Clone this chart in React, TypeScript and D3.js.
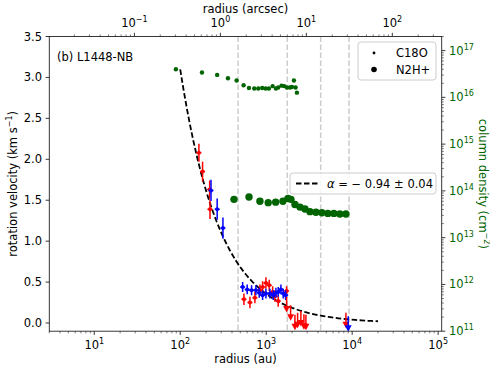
import React from "react";
import * as d3 from "d3";

const W = 490;
const H = 368;
const M = { left: 49.3, right: 441.7, top: 36.5, bottom: 331.2 };
const FONT = "DejaVu Sans, sans-serif";
const GREEN = "#006400";
const DIST_PC = 293; // au -> arcsec

// C18O column density profile
const c18oRadius = [89, 179, 269, 359, 453, 546, 630, 726, 808, 899, 985, 1076, 1188, 1298, 1380, 1511, 1621, 1742, 1888, 1992, 2100, 2198, 2276];
const c18oColumn = [3.98e16, 3.39e16, 3.02e16, 2.57e16, 2.29e16, 1.82e16, 1.58e16, 1.55e16, 1.55e16, 1.58e16, 1.55e16, 1.55e16, 1.74e16, 1.55e16, 1.62e16, 1.78e16, 1.74e16, 1.62e16, 1.62e16, 1.66e16, 2.29e16, 1.62e16, 1.26e16];

// N2H+ column density profile
const n2hRadius = [422, 631, 845, 1056, 1288, 1566, 1791, 1941, 2160, 2471, 2825, 3230, 3787, 4450, 5220, 6130, 7200, 8450];
const n2hColumn = [6.6e13, 7.4e13, 6.0e13, 5.6e13, 5.75e13, 6.0e13, 6.9e13, 6.6e13, 5.1e13, 4.5e13, 4.1e13, 3.6e13, 3.5e13, 3.4e13, 3.3e13, 3.3e13, 3.2e13, 3.2e13];

// rotation velocities (red / blue side)
const redRadius = [165, 182, 220, 222, 551, 647, 739, 845, 908, 993, 1084, 1188, 1262, 1380, 1726];
const redVel = [2.08, 1.85, 1.63, 1.39, 0.29, 0.25, 0.31, 0.40, 0.44, 0.49, 0.46, 0.38, 0.33, 0.27, 0.39];
const redErr = [0.11, 0.12, 0.11, 0.12, 0.07, 0.07, 0.07, 0.07, 0.07, 0.07, 0.07, 0.07, 0.07, 0.07, 0.06];

const blueRadius = [228, 269, 314, 532, 601, 676, 759, 830, 908, 993, 1105, 1208, 1298, 1381, 1483, 1579, 1683];
const blueVel = [1.62, 1.39, 1.16, 0.44, 0.41, 0.40, 0.40, 0.37, 0.34, 0.36, 0.36, 0.34, 0.37, 0.38, 0.41, 0.36, 0.34];
const blueErr = [0.13, 0.13, 0.13, 0.06, 0.06, 0.06, 0.06, 0.06, 0.06, 0.06, 0.06, 0.06, 0.06, 0.06, 0.06, 0.06, 0.06];

// upper limits
const redLimRadius = [1727, 1923, 2159, 2318, 2533, 2746, 2898, 8460];
const redLimVel = [0.17, 0.07, -0.045, -0.02, 0.0, -0.04, -0.045, -0.02];
const blueLimRadius = [8990];
const blueLimVel = [-0.065];

// power-law fit
const fitAmp = 235;
const fitAlpha = -0.94;
const fitRange = [100, 2e4];

const guideRadii = [470, 1760, 4300, 9200];

const velTicks = [0, 0.5, 1, 1.5, 2, 2.5, 3, 3.5];
const auExp = [1, 2, 3, 4, 5];
const arcsecExp = [-1, 0, 1, 2];
const colExp = [11, 12, 13, 14, 15, 16, 17];

const x = d3.scaleLog().domain([3, 1.1e5]).range([M.left, M.right]);
const xTop = d3.scaleLog().domain([3 / DIST_PC, 1.1e5 / DIST_PC]).range([M.left, M.right]);
const yV = d3.scaleLinear().domain([-0.1, 3.5]).range([M.bottom, M.top]);
const yN = d3.scaleLog().domain([1e11, 2e17]).range([M.bottom, M.top]);

function minorTicks(domain: number[]) {
  const out: number[] = [];
  const lo = Math.floor(Math.log10(domain[0]));
  const hi = Math.ceil(Math.log10(domain[1]));
  for (let d = lo; d <= hi; d++) {
    for (let k = 2; k <= 9; k++) {
      const v = k * Math.pow(10, d);
      if (v >= domain[0] && v <= domain[1]) out.push(v);
    }
  }
  return out;
}

const Pow = ({ x0, y0, e, anchor = "middle", fill = "#000" }: any) => (
  <text x={x0} y={y0} fontSize={11.5} textAnchor={anchor} fill={fill} fontFamily={FONT}>
    10
    <tspan dy={-5} fontSize={8}>{e < 0 ? "\u2212" + Math.abs(e) : e}</tspan>
  </text>
);

export default function App() {
  const fitR = d3.range(0, 61).map((i) => fitRange[0] * Math.pow(fitRange[1] / fitRange[0], i / 60));
  const fitLine = d3
    .line<number>()
    .x((r) => x(r))
    .y((r) => yV(fitAmp * Math.pow(r, fitAlpha)))(fitR);

  const errPoint = (r: number, v: number, e: number, color: string, key: string) => (
    <g key={key} stroke={color} fill={color}>
      <line x1={x(r)} x2={x(r)} y1={yV(v - e)} y2={yV(v + e)} strokeWidth={1.5} />
      <line x1={x(r) - 2.5} x2={x(r) + 2.5} y1={yV(v)} y2={yV(v)} strokeWidth={1.5} />
      <circle cx={x(r)} cy={yV(v)} r={2} stroke="none" />
    </g>
  );

  const limPoint = (r: number, v: number, color: string, key: string) => {
    const cx = x(r);
    const cy = yV(v);
    return (
      <g key={key} stroke={color} fill={color}>
        <line x1={cx} x2={cx} y1={cy - 12} y2={cy} strokeWidth={1.5} />
        <path d={`M${cx - 3.5},${cy - 3} L${cx + 3.5},${cy - 3} L${cx},${cy + 3.5} Z`} stroke="none" />
      </g>
    );
  };

  const spine = "#222";

  return (
    <svg width={W} height={H} style={{ position: "absolute", left: 0, top: 0, background: "#fff" }} fontFamily={FONT}>
      <defs>
        <clipPath id="plot">
          <rect x={M.left} y={M.top} width={M.right - M.left} height={M.bottom - M.top} />
        </clipPath>
      </defs>

      {/* guide lines */}
      {guideRadii.map((r, i) => (
        <line key={"g" + i} x1={x(r)} x2={x(r)} y1={M.top} y2={M.bottom} stroke="#cccccc" strokeWidth={1.5} strokeDasharray="5.5,2.5" />
      ))}

      <g clipPath="url(#plot)">
        <path d={fitLine || ""} fill="none" stroke="#000" strokeWidth={1.8} strokeDasharray="5.5,2.5" />
        {redRadius.map((r, i) => errPoint(r, redVel[i], redErr[i], "#ff0000", "r" + i))}
        {blueRadius.map((r, i) => errPoint(r, blueVel[i], blueErr[i], "#0000ff", "b" + i))}
        {redLimRadius.map((r, i) => limPoint(r, redLimVel[i], "#ff0000", "rl" + i))}
        {blueLimRadius.map((r, i) => limPoint(r, blueLimVel[i], "#0000ff", "bl" + i))}
        {c18oRadius.map((r, i) => (
          <circle key={"c" + i} cx={x(r)} cy={yN(c18oColumn[i])} r={2.2} fill={GREEN} />
        ))}
        {n2hRadius.map((r, i) => (
          <circle key={"n" + i} cx={x(r)} cy={yN(n2hColumn[i])} r={3.7} fill={GREEN} />
        ))}
      </g>

      {/* fit annotation */}
      <rect x={290} y={173} width={146} height={21} rx={3} fill="#fff" fillOpacity={0.85} stroke="#cccccc" strokeWidth={1} />
      <line x1={296} x2={319} y1={183.5} y2={183.5} stroke="#000" strokeWidth={1.8} strokeDasharray="5.5,2.5" />
      <text x={327} y={188} fontSize={11.5}>
        <tspan fontStyle="italic">α</tspan>
        {" = \u2212 0.94 ± 0.04"}
      </text>

      {/* legend */}
      <rect x={358} y={42} width={78} height={38} rx={3} fill="#fff" fillOpacity={0.85} stroke="#cccccc" strokeWidth={1} />
      <circle cx={374} cy={53} r={1.4} fill="#000" />
      <circle cx={374} cy={69.5} r={2.8} fill="#000" />
      <text x={396} y={57} fontSize={11.5}>C18O</text>
      <text x={396} y={73.5} fontSize={11.5}>N2H+</text>

      {/* panel label */}
      <text x={57} y={61} fontSize={11.5}>(b) L1448-NB</text>

      {/* frame */}
      <rect x={M.left} y={M.top} width={M.right - M.left} height={M.bottom - M.top} fill="none" stroke={spine} strokeWidth={0.9} />

      {/* bottom axis */}
      {minorTicks(x.domain()).map((v, i) => (
        <line key={"bm" + i} x1={x(v)} x2={x(v)} y1={M.bottom} y2={M.bottom + 2.1} stroke={spine} strokeWidth={0.6} />
      ))}
      {auExp.map((e) => (
        <g key={"bx" + e}>
          <line x1={x(Math.pow(10, e))} x2={x(Math.pow(10, e))} y1={M.bottom} y2={M.bottom + 3.7} stroke={spine} strokeWidth={0.9} />
          <Pow x0={x(Math.pow(10, e))} y0={349} e={e} />
        </g>
      ))}
      <text x={(M.left + M.right) / 2} y={363} fontSize={11.5} textAnchor="middle">radius (au)</text>

      {/* top axis */}
      {minorTicks(xTop.domain()).map((v, i) => (
        <line key={"tm" + i} x1={xTop(v)} x2={xTop(v)} y1={M.top} y2={M.top - 2.1} stroke={spine} strokeWidth={0.6} />
      ))}
      {arcsecExp.map((e) => (
        <g key={"tx" + e}>
          <line x1={xTop(Math.pow(10, e))} x2={xTop(Math.pow(10, e))} y1={M.top} y2={M.top - 3.7} stroke={spine} strokeWidth={0.9} />
          <Pow x0={xTop(Math.pow(10, e))} y0={26.5} e={e} />
        </g>
      ))}
      <text x={(M.left + M.right) / 2} y={13} fontSize={11.5} textAnchor="middle">radius (arcsec)</text>

      {/* left axis */}
      {velTicks.map((v) => (
        <g key={"ly" + v}>
          <line x1={M.left} x2={M.left - 3.7} y1={yV(v)} y2={yV(v)} stroke={spine} strokeWidth={0.9} />
          <text x={42} y={yV(v) + 4} fontSize={11.5} textAnchor="end">{v.toFixed(1)}</text>
        </g>
      ))}
      <text transform={`translate(17,${(M.top + M.bottom) / 2}) rotate(-90)`} fontSize={11.5} textAnchor="middle">
        rotation velocity (km s
        <tspan dy={-5} fontSize={8}>{"\u22121"}</tspan>
        <tspan dy={5}>)</tspan>
      </text>

      {/* right axis */}
      {minorTicks(yN.domain()).map((v, i) => (
        <line key={"rm" + i} x1={M.right} x2={M.right + 2.1} y1={yN(v)} y2={yN(v)} stroke={spine} strokeWidth={0.6} />
      ))}
      {colExp.map((e) => (
        <g key={"ry" + e}>
          <line x1={M.right} x2={M.right + 3.7} y1={yN(Math.pow(10, e))} y2={yN(Math.pow(10, e))} stroke={spine} strokeWidth={0.9} />
          <Pow x0={449} y0={yN(Math.pow(10, e)) + 4} e={e} anchor="start" fill={GREEN} />
        </g>
      ))}
      <text transform={`translate(479,${(M.top + M.bottom) / 2}) rotate(90)`} fontSize={11.5} textAnchor="middle" fill={GREEN}>
        column density (cm
        <tspan dy={-5} fontSize={8}>{"\u22122"}</tspan>
        <tspan dy={5}>)</tspan>
      </text>
    </svg>
  );
}
